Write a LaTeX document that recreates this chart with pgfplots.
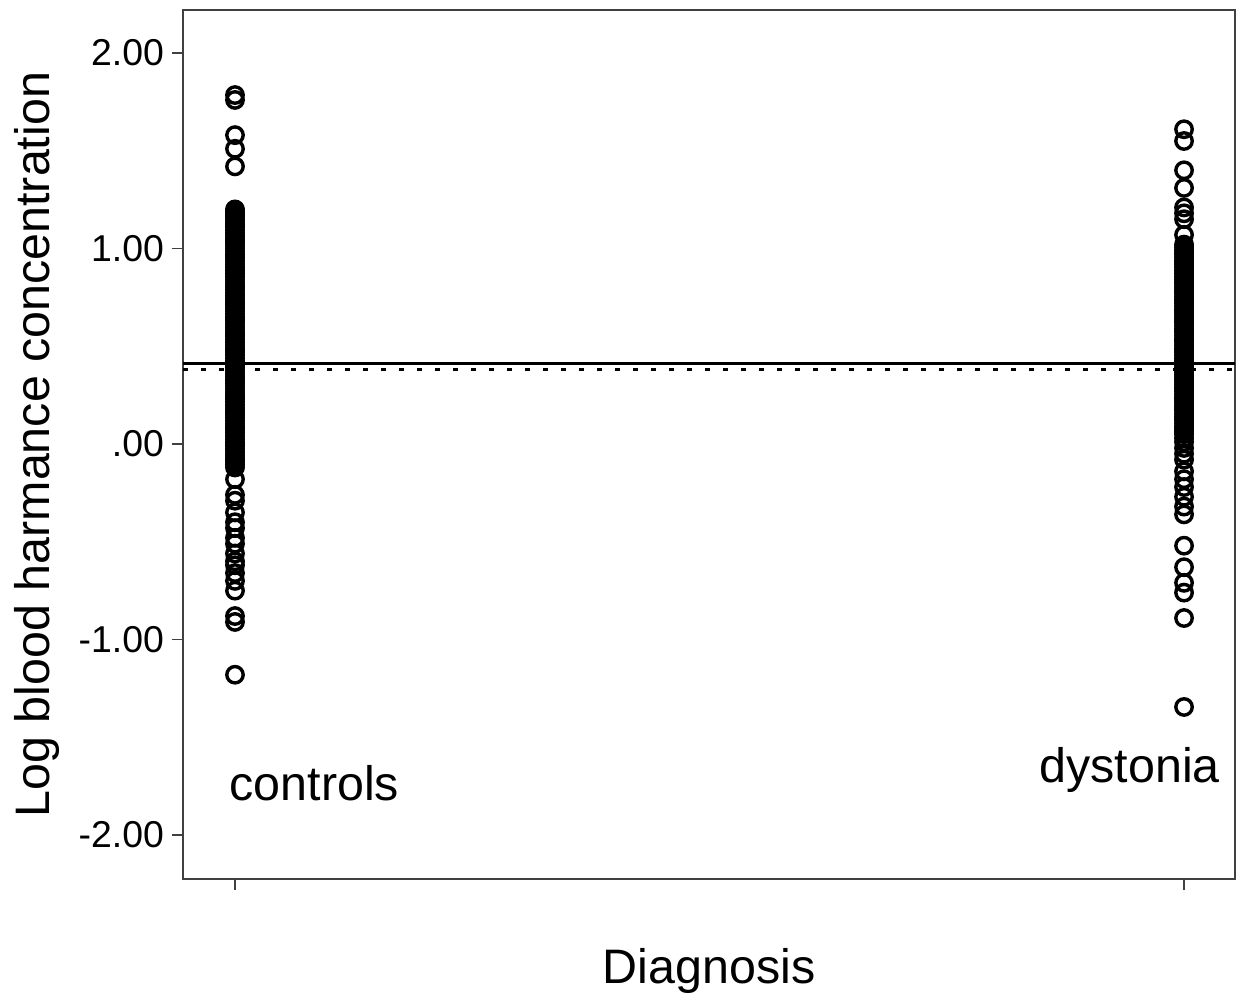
\documentclass[border=0pt]{standalone}
\usepackage{pgfplots}
\pgfplotsset{compat=1.18}
\usepackage{fontspec}
\setmainfont{Liberation Sans}

\begin{document}
\begin{tikzpicture}
\begin{axis}[
    scale only axis,
    width=526pt, height=434.5pt,
    xmin=0.9452, xmax=2.0537,
    ymin=-2.225, ymax=2.22,
    xtick={1,2}, xticklabels={,},
    ytick={-2,-1,0,1,2},
    yticklabels={-2.00,-1.00,.00,1.00,2.00},
    xtick pos=bottom, ytick pos=left,
    tick align=outside,
    major tick length=5.5pt,
    axis line style={black!75, line width=0.9pt},
    tick style={black!75, line width=0.9pt},
    yticklabel style={font=\fontsize{18.7}{22}\selectfont, xshift=-0.5pt},
    clip=false,
]
% controls
\addplot[only marks, mark=o, mark size=4.1pt, mark options={line width=1.7pt, black}] table[row sep=\\] {
x y\\
1 1.785\\ 1 1.76\\ 1 1.58\\ 1 1.51\\ 1 1.42\\
1 1.20\\ 1 1.18\\ 1 1.16\\ 1 1.13\\ 1 1.11\\ 1 1.08\\ 1 1.05\\ 1 1.03\\ 1 1.00\\ 1 0.97\\
1 0.95\\ 1 0.92\\ 1 0.89\\ 1 0.87\\ 1 0.84\\ 1 0.81\\ 1 0.79\\ 1 0.76\\ 1 0.73\\ 1 0.71\\
1 0.68\\ 1 0.65\\ 1 0.63\\ 1 0.60\\ 1 0.57\\ 1 0.55\\ 1 0.52\\ 1 0.49\\ 1 0.47\\ 1 0.44\\
1 0.41\\ 1 0.39\\ 1 0.36\\ 1 0.33\\ 1 0.31\\ 1 0.28\\ 1 0.25\\ 1 0.23\\ 1 0.20\\ 1 0.17\\
1 0.15\\ 1 0.12\\ 1 0.09\\ 1 0.07\\ 1 0.04\\ 1 0.01\\ 1 -0.01\\ 1 -0.04\\ 1 -0.07\\ 1 -0.09\\
1 1.19\\ 1 1.17\\ 1 1.145\\ 1 1.12\\ 1 1.095\\ 1 1.065\\ 1 1.04\\ 1 1.015\\ 1 0.985\\ 1 0.96\\
1 0.935\\ 1 0.905\\ 1 0.88\\ 1 0.855\\ 1 0.825\\ 1 0.80\\ 1 0.775\\ 1 0.745\\ 1 0.72\\ 1 0.695\\
1 0.665\\ 1 0.64\\ 1 0.615\\ 1 0.585\\ 1 0.56\\ 1 0.535\\ 1 0.505\\ 1 0.48\\ 1 0.455\\ 1 0.425\\
1 0.40\\ 1 0.375\\ 1 0.345\\ 1 0.32\\ 1 0.295\\ 1 0.265\\ 1 0.24\\ 1 0.215\\ 1 0.185\\ 1 0.16\\
1 0.135\\ 1 0.105\\ 1 0.08\\ 1 0.055\\ 1 0.025\\ 1 0.00\\ 1 -0.025\\ 1 -0.055\\ 1 -0.08\\ 1 -0.105\\
1 -0.12\\ 1 -0.18\\ 1 -0.26\\ 1 -0.29\\ 1 -0.35\\ 1 -0.40\\ 1 -0.43\\ 1 -0.48\\ 1 -0.51\\
1 -0.56\\ 1 -0.60\\ 1 -0.62\\ 1 -0.66\\ 1 -0.70\\ 1 -0.75\\ 1 -0.88\\ 1 -0.91\\ 1 -1.18\\
};
% dystonia
\addplot[only marks, mark=o, mark size=4.1pt, mark options={line width=1.7pt, black}] table[row sep=\\] {
x y\\
2 1.61\\ 2 1.55\\ 2 1.40\\ 2 1.31\\ 2 1.21\\ 2 1.18\\ 2 1.15\\ 2 1.07\\
2 1.02\\ 2 0.99\\ 2 0.97\\ 2 0.94\\ 2 0.92\\ 2 0.89\\ 2 0.87\\ 2 0.84\\ 2 0.82\\ 2 0.79\\
2 0.77\\ 2 0.74\\ 2 0.72\\ 2 0.69\\ 2 0.67\\ 2 0.64\\ 2 0.62\\ 2 0.59\\ 2 0.57\\ 2 0.54\\
2 0.52\\ 2 0.49\\ 2 0.47\\ 2 0.44\\ 2 0.42\\ 2 0.39\\ 2 0.37\\ 2 0.34\\ 2 0.32\\ 2 0.29\\
2 0.27\\ 2 0.24\\ 2 0.22\\ 2 0.19\\ 2 0.17\\ 2 0.14\\ 2 0.12\\ 2 0.09\\ 2 0.07\\ 2 0.05\\
2 1.005\\ 2 0.98\\ 2 0.955\\ 2 0.93\\ 2 0.905\\ 2 0.88\\ 2 0.855\\ 2 0.83\\ 2 0.805\\ 2 0.78\\
2 0.755\\ 2 0.73\\ 2 0.705\\ 2 0.68\\ 2 0.655\\ 2 0.63\\ 2 0.605\\ 2 0.58\\ 2 0.555\\ 2 0.53\\
2 0.505\\ 2 0.48\\ 2 0.455\\ 2 0.43\\ 2 0.405\\ 2 0.38\\ 2 0.355\\ 2 0.33\\ 2 0.305\\ 2 0.28\\
2 0.255\\ 2 0.23\\ 2 0.205\\ 2 0.18\\ 2 0.155\\ 2 0.13\\ 2 0.105\\ 2 0.08\\ 2 0.06\\ 2 0.03\\
2 0.01\\ 2 -0.02\\ 2 -0.05\\ 2 -0.08\\ 2 -0.14\\ 2 -0.18\\ 2 -0.22\\ 2 -0.27\\
2 -0.32\\ 2 -0.36\\ 2 -0.52\\
2 -0.63\\ 2 -0.71\\ 2 -0.76\\ 2 -0.89\\ 2 -1.345\\
};
% reference lines
\addplot[black, line width=1.6pt] coordinates {(0.9452,0.41) (2.0537,0.41)};
\addplot[black, line width=1.5pt, dash pattern=on 2.5pt off 6.5pt] coordinates {(0.9452,0.38) (2.0537,0.38)};

\node[anchor=base west, font=\fontsize{24.2}{28}\selectfont, inner sep=0pt] at (axis cs:0.994,-1.821) {controls};
\node[anchor=base east, font=\fontsize{24.2}{28}\selectfont, inner sep=0pt] at (axis cs:2.038,-1.729) {dystonia};
\node[anchor=base, font=\fontsize{24.2}{28}\selectfont, inner sep=0pt] at ([yshift=-52pt]rel axis cs:0.5,0) {Diagnosis};
\node[anchor=base, rotate=90, font=\fontsize{24.2}{28}\selectfont, inner sep=0pt] at ([xshift=-66.5pt]rel axis cs:0,0.5) {Log blood harmance concentration};

\coordinate (ll) at (rel axis cs:0,0);
\coordinate (ur) at (rel axis cs:1,1);
\end{axis}
\pgfresetboundingbox
\path[use as bounding box] ([shift={(-91.5pt,-57.5pt)}]ll) rectangle ([shift={(2.5pt,5pt)}]ur);
\end{tikzpicture}
\end{document}
